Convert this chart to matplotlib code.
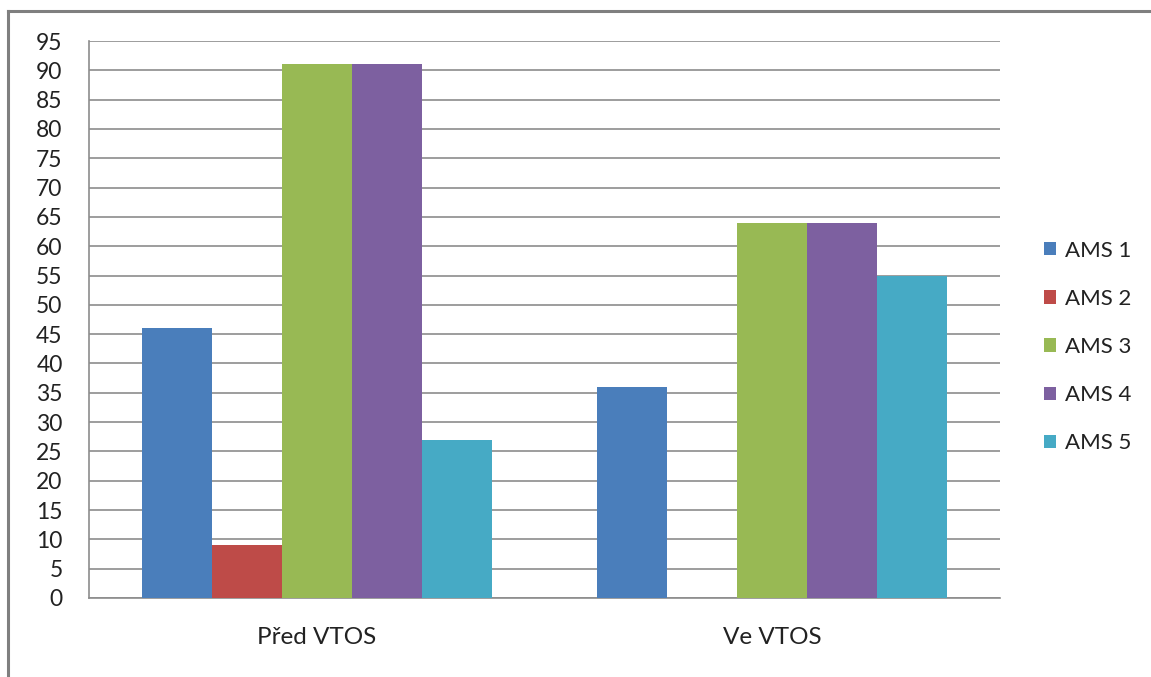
import matplotlib
matplotlib.use("Agg")
import matplotlib.pyplot as plt
from matplotlib.lines import Line2D
from matplotlib.patches import Patch
import numpy as np

categories = ["Před VTOS", "Ve VTOS"]
series_names = ["AMS 1", "AMS 2", "AMS 3", "AMS 4", "AMS 5"]
ams1 = [46, 36]
ams2 = [9, 0]
ams3 = [91, 64]
ams4 = [91, 64]
ams5 = [27, 55]
series_values = [ams1, ams2, ams3, ams4, ams5]
colors = ["#4A7EBB", "#BE4B48", "#98B954", "#7D60A0", "#46AAC5"]
yticks = list(range(0, 100, 5))

plt.rcParams['font.family'] = ['Lato', 'DejaVu Sans']

W, H = 1151, 677
fig = plt.figure(figsize=(W/100, H/100), dpi=100)
ax = fig.add_axes([89/W, 1-598/H, (1000-89)/W, (598-41)/H])

x = np.arange(len(categories))
bw = 70/455.5
n = len(series_names)
for i, (name, vals, c) in enumerate(zip(series_names, series_values, colors)):
    ax.bar(x + (i - (n-1)/2)*bw, vals, bw, color=c, label=name, zorder=3)

ax.set_xlim(-0.5, 1.5)
ax.set_ylim(0, 95)
ax.set_yticks(yticks)
ax.set_yticklabels([str(t) for t in yticks], fontsize=16.5, color="#222222")
ax.set_xticks(x)
ax.set_xticklabels(categories, fontsize=17.5, color="#222222")
ax.tick_params(axis='y', length=0, pad=19)
ax.tick_params(axis='x', length=0, pad=21)
ax.grid(axis='y', color="#8c8c8c", linewidth=1.2, zorder=0)
for s in ["top", "right"]:
    ax.spines[s].set_visible(False)
for s in ["left", "bottom"]:
    ax.spines[s].set_color("#8c8c8c")
    ax.spines[s].set_linewidth(1.2)

handles = [Patch(facecolor=c, edgecolor='none') for c in colors]
leg = fig.legend(handles, series_names, loc='center left',
                 bbox_to_anchor=(1024/W, 1-347/H), frameon=False,
                 fontsize=16, handlelength=0.55, handleheight=0.55,
                 handletextpad=0.4, labelspacing=1.27)
for t in leg.get_texts():
    t.set_color("#222222")

# outer chart border
fig.add_artist(Line2D([8/W, 1.0], [1-11/H, 1-11/H], color="#7f7f7f", linewidth=2.2, transform=fig.transFigure))
fig.add_artist(Line2D([8/W, 8/W], [1-11/H, 0], color="#7f7f7f", linewidth=2.2, transform=fig.transFigure))

fig.savefig("out.png", dpi=100, facecolor="white")
